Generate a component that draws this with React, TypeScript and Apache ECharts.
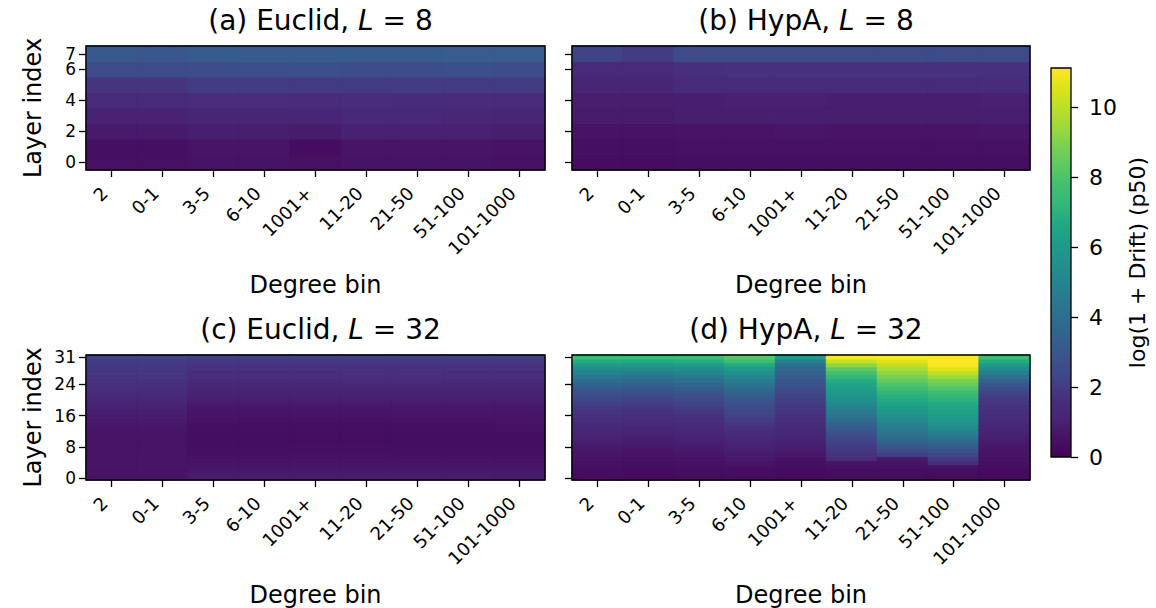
import React, { useEffect, useRef } from "react";
import * as echarts from "echarts";

const FONT = "DejaVu Sans";

const degreeBins = ["2", "0-1", "3-5", "6-10", "1001+", "11-20", "21-50", "51-100", "101-1000"];

const layers8 = ["0", "1", "2", "3", "4", "5", "6", "7"];
const layers32 = Array.from({ length: 32 }, (_, i) => String(i));
const ticks8 = [0, 2, 4, 6, 7];
const ticks32 = [0, 8, 16, 24, 31];

// log(1 + drift), p50 — L = 8: one row per layer (layer 0 first), one value per degree bin
const euclid8 = [
  [0.5, 0.5, 0.55, 0.55, 0.5, 0.55, 0.55, 0.55, 0.5],
  [0.45, 0.45, 0.6, 0.6, 0.35, 0.6, 0.6, 0.6, 0.55],
  [0.8, 0.8, 0.95, 0.9, 0.85, 1.0, 1.0, 1.0, 0.9],
  [1.05, 1.05, 1.2, 1.2, 1.15, 1.3, 1.3, 1.25, 1.2],
  [1.4, 1.4, 1.55, 1.55, 1.5, 1.55, 1.5, 1.5, 1.45],
  [1.8, 1.8, 2.0, 2.0, 1.95, 1.95, 2.0, 1.95, 1.95],
  [2.5, 2.5, 2.6, 2.65, 2.65, 2.6, 2.6, 2.65, 2.6],
  [3.1, 3.0, 3.2, 3.2, 3.2, 3.2, 3.2, 3.25, 3.25],
];

const hypa8 = [
  [0.35, 0.35, 0.4, 0.4, 0.4, 0.4, 0.4, 0.4, 0.4],
  [0.45, 0.45, 0.5, 0.5, 0.5, 0.5, 0.5, 0.5, 0.5],
  [0.55, 0.55, 0.6, 0.6, 0.65, 0.6, 0.6, 0.6, 0.65],
  [0.85, 0.85, 0.9, 0.9, 0.95, 0.9, 0.9, 0.9, 0.95],
  [0.9, 0.9, 0.95, 1.0, 1.0, 0.95, 0.95, 0.95, 1.0],
  [1.2, 1.2, 1.45, 1.45, 1.45, 1.45, 1.45, 1.45, 1.5],
  [1.4, 1.4, 1.65, 1.7, 1.7, 1.7, 1.7, 1.7, 1.7],
  [2.2, 2.0, 2.45, 2.45, 2.45, 2.45, 2.45, 2.5, 2.45],
];

// L = 32: one array per degree bin, one value per layer (layer 0 first)
const euclid32 = [
  [0.6, 0.6, 0.6, 0.6, 0.6, 0.6, 0.6, 0.6, 0.6, 0.6, 0.6, 0.6, 0.65, 0.7, 0.75, 0.8, 0.85, 0.9, 1.0, 1.1, 1.25, 1.4, 1.5, 1.6, 1.7, 1.75, 1.8, 1.85, 1.9, 1.95, 2.0, 2.2],
  [0.6, 0.6, 0.6, 0.6, 0.6, 0.6, 0.6, 0.6, 0.6, 0.6, 0.6, 0.6, 0.65, 0.7, 0.75, 0.8, 0.85, 0.9, 1.0, 1.1, 1.2, 1.35, 1.5, 1.6, 1.65, 1.75, 1.8, 1.85, 1.9, 1.95, 2.0, 2.2],
  [0.9, 0.85, 0.75, 0.65, 0.6, 0.55, 0.5, 0.5, 0.45, 0.45, 0.45, 0.45, 0.45, 0.45, 0.5, 0.55, 0.55, 0.6, 0.7, 0.8, 0.9, 1.0, 1.1, 1.2, 1.35, 1.45, 1.55, 1.6, 1.7, 1.8, 1.9, 2.1],
  [0.9, 0.85, 0.75, 0.65, 0.6, 0.55, 0.5, 0.5, 0.45, 0.45, 0.45, 0.45, 0.45, 0.45, 0.5, 0.5, 0.55, 0.6, 0.7, 0.8, 0.9, 1.0, 1.1, 1.2, 1.35, 1.45, 1.55, 1.6, 1.7, 1.8, 1.9, 2.1],
  [0.9, 0.85, 0.75, 0.65, 0.6, 0.55, 0.5, 0.45, 0.45, 0.4, 0.4, 0.4, 0.45, 0.45, 0.5, 0.5, 0.55, 0.6, 0.7, 0.8, 0.9, 1.0, 1.1, 1.2, 1.35, 1.45, 1.55, 1.6, 1.7, 1.8, 1.9, 2.1],
  [0.9, 0.85, 0.75, 0.65, 0.6, 0.55, 0.5, 0.45, 0.45, 0.4, 0.4, 0.4, 0.45, 0.45, 0.5, 0.5, 0.55, 0.6, 0.7, 0.8, 0.9, 1.0, 1.1, 1.2, 1.35, 1.5, 1.6, 1.65, 1.7, 1.8, 1.9, 2.1],
  [0.9, 0.85, 0.75, 0.65, 0.6, 0.55, 0.5, 0.5, 0.45, 0.45, 0.45, 0.45, 0.45, 0.5, 0.5, 0.55, 0.6, 0.65, 0.7, 0.8, 0.9, 1.0, 1.1, 1.2, 1.35, 1.5, 1.6, 1.65, 1.7, 1.8, 1.9, 2.1],
  [0.9, 0.85, 0.75, 0.65, 0.6, 0.55, 0.5, 0.5, 0.45, 0.45, 0.45, 0.45, 0.45, 0.5, 0.5, 0.55, 0.6, 0.65, 0.7, 0.8, 0.9, 1.0, 1.1, 1.2, 1.35, 1.45, 1.55, 1.6, 1.7, 1.8, 1.9, 2.1],
  [0.85, 0.8, 0.75, 0.65, 0.6, 0.55, 0.5, 0.5, 0.45, 0.45, 0.45, 0.45, 0.5, 0.5, 0.55, 0.55, 0.6, 0.65, 0.7, 0.8, 0.9, 1.0, 1.1, 1.2, 1.35, 1.45, 1.55, 1.6, 1.7, 1.8, 1.9, 2.1],
];

const hypa32 = [
  [0.3, 0.3, 0.4, 0.45, 0.5, 0.55, 0.6, 0.7, 0.8, 0.9, 1.0, 1.1, 1.2, 1.3, 1.45, 1.6, 1.7, 1.8, 1.9, 2.1, 2.3, 2.5, 2.8, 3.1, 3.5, 3.9, 4.3, 4.8, 5.3, 6.0, 6.8, 7.6],
  [0.3, 0.3, 0.35, 0.4, 0.45, 0.5, 0.55, 0.65, 0.75, 0.85, 0.95, 1.05, 1.15, 1.25, 1.4, 1.5, 1.6, 1.7, 1.85, 2.0, 2.2, 2.4, 2.7, 3.0, 3.4, 3.8, 4.2, 4.7, 5.2, 5.9, 6.7, 7.5],
  [0.3, 0.35, 0.4, 0.45, 0.5, 0.55, 0.65, 0.75, 0.85, 0.95, 1.05, 1.15, 1.25, 1.35, 1.5, 1.6, 1.7, 1.85, 2.0, 2.2, 2.4, 2.6, 2.9, 3.2, 3.6, 4.0, 4.4, 4.9, 5.4, 6.1, 6.9, 7.6],
  [0.35, 0.4, 0.45, 0.5, 0.6, 0.7, 0.8, 0.9, 1.0, 1.1, 1.25, 1.4, 1.55, 1.7, 1.85, 2.0, 2.15, 2.3, 2.5, 2.7, 2.9, 3.2, 3.5, 3.8, 4.2, 4.6, 5.0, 5.5, 6.0, 6.7, 7.5, 8.2],
  [0.3, 0.3, 0.35, 0.4, 0.45, 0.5, 0.7, 0.8, 0.9, 1.0, 1.1, 1.2, 1.3, 1.4, 1.5, 1.6, 1.7, 1.8, 1.9, 2.0, 2.1, 2.25, 2.4, 2.6, 2.8, 3.0, 3.2, 3.4, 3.7, 4.1, 4.8, 6.0],
  [0.3, 0.35, 0.4, 0.5, 0.6, 1.5, 1.7, 1.85, 2.0, 2.15, 2.35, 2.6, 2.9, 3.2, 3.5, 3.8, 4.2, 4.5, 4.8, 5.1, 5.4, 5.7, 6.0, 6.2, 6.5, 6.8, 7.2, 7.7, 8.3, 9.2, 10.2, 11.0],
  [0.3, 0.35, 0.4, 0.5, 0.55, 0.7, 2.1, 2.5, 2.9, 3.3, 3.7, 4.0, 4.3, 4.6, 4.9, 5.2, 5.5, 5.8, 6.1, 6.4, 6.7, 6.9, 7.2, 7.6, 8.0, 8.4, 8.8, 9.2, 9.6, 10.0, 10.6, 11.1],
  [0.3, 0.35, 0.45, 0.55, 1.6, 1.9, 2.3, 2.7, 3.1, 3.6, 4.1, 4.5, 4.9, 5.3, 5.6, 5.9, 6.1, 6.3, 6.5, 6.7, 7.0, 7.3, 7.6, 8.0, 8.5, 8.9, 9.4, 10.0, 10.6, 11.0, 11.1, 11.1],
  [0.3, 0.3, 0.35, 0.4, 0.45, 0.5, 0.55, 0.6, 0.7, 0.8, 0.9, 1.0, 1.1, 1.2, 1.3, 1.4, 1.5, 1.6, 1.7, 1.8, 1.9, 2.05, 2.25, 2.6, 3.0, 3.5, 4.0, 4.6, 5.3, 6.0, 6.8, 7.6],
];

const colorMin = 0;
const colorMax = 11.12;

// viridis, sampled every 5 %
const viridis = [
  "#440154", "#471365", "#482475", "#472f7d", "#414487", "#3b528b", "#355f8d",
  "#2f6c8e", "#2a788e", "#25858e", "#21918c", "#1e9c89", "#22a884", "#35b779",
  "#44bf70", "#5ec962", "#7ad151", "#9fda3a", "#bddf26", "#dfe318", "#fde725",
];

// colour of a value on the viridis ramp (used to paint cell edges so no seams show)
function rampColor(v: number): string {
  const t = Math.min(1, Math.max(0, (v - colorMin) / (colorMax - colorMin)));
  const pos = t * (viridis.length - 1);
  const i = Math.min(viridis.length - 2, Math.floor(pos));
  const f = pos - i;
  const a = viridis[i], b = viridis[i + 1];
  const ch = (s: string, k: number) => parseInt(s.slice(1 + 2 * k, 3 + 2 * k), 16);
  const out = [0, 1, 2].map((k) => Math.round(ch(a, k) + (ch(b, k) - ch(a, k)) * f));
  return `rgb(${out.join(",")})`;
}

const cell = (x: number, y: number, v: number) => ({
  value: [x, y, v],
  itemStyle: { borderColor: rampColor(v), borderWidth: 0.7 },
});

const rowMajor = (rows: number[][]) =>
  rows.flatMap((row, y) => row.map((v, x) => cell(x, y, v)));
const colMajor = (cols: number[][]) =>
  cols.flatMap((col, x) => col.map((v, y) => cell(x, y, v)));

const panels = [
  { tag: "(a) Euclid, ", L: "8", data: rowMajor(euclid8), layers: layers8, ticks: ticks8, grid: { left: 86, top: 46, width: 459, height: 124 }, labels: true },
  { tag: "(b) HypA, ", L: "8", data: rowMajor(hypa8), layers: layers8, ticks: ticks8, grid: { left: 572, top: 46, width: 458, height: 124 }, labels: false },
  { tag: "(c) Euclid, ", L: "32", data: colMajor(euclid32), layers: layers32, ticks: ticks32, grid: { left: 86, top: 355, width: 459, height: 125 }, labels: true },
  { tag: "(d) HypA, ", L: "32", data: colMajor(hypa32), layers: layers32, ticks: ticks32, grid: { left: 572, top: 355, width: 458, height: 125 }, labels: false },
];

const colorbarGrid = { left: 1051, top: 68, width: 20, height: 389 };

export default function App() {
  const ref = useRef<HTMLDivElement>(null);

  useEffect(() => {
    if (!ref.current) return;
    const chart = echarts.init(ref.current, undefined, { renderer: "svg" });

    const border = { show: true, borderColor: "#000", borderWidth: 1.3, backgroundColor: "transparent", z: 10 };
    const tickStyle = { color: "#000", width: 1.3 };

    const grid = [
      ...panels.map((p) => ({ ...p.grid, ...border })),
      { ...colorbarGrid, ...border },
    ];

    const xAxis: any[] = panels.map((p, i) => ({
      type: "category",
      gridIndex: i,
      data: degreeBins,
      axisLine: { show: false },
      axisTick: { show: true, alignWithLabel: true, length: 7, lineStyle: tickStyle },
      axisLabel: {
        rotate: 45,
        fontSize: 18,
        color: "#000",
        fontFamily: FONT,
        margin: 13,
        padding: [0, 10, 0, 0],
        hideOverlap: false,
      },
      splitLine: { show: false },
      name: "Degree bin",
      nameLocation: "middle",
      nameGap: 103,
      nameTextStyle: { fontSize: 24, color: "#000", fontFamily: FONT },
      z: 5,
    }));
    xAxis.push({ type: "category", gridIndex: 4, data: [""], show: false });

    const yAxis: any[] = panels.map((p, i) => {
      const shown = (idx: number) => p.ticks.includes(idx);
      return {
        type: "category",
        gridIndex: i,
        data: p.layers,
        axisLine: { show: false },
        axisTick: { show: true, alignWithLabel: true, length: 7, lineStyle: tickStyle, interval: shown },
        axisLabel: {
          show: p.labels,
          // every slot is laid out; only the ticked layers get text
          interval: 0,
          formatter: (v: string, idx: number) => (shown(idx) ? v : ""),
          fontSize: 17,
          lineHeight: 13,
          color: "#000",
          fontFamily: FONT,
          margin: 10,
          hideOverlap: false,
        },
        splitLine: { show: false },
        name: p.labels ? "Layer index" : "",
        nameLocation: "middle",
        nameRotate: 90,
        nameGap: 41,
        nameTextStyle: { fontSize: 24, color: "#000", fontFamily: FONT },
        z: 5,
      };
    });
    yAxis.push({
      type: "value",
      gridIndex: 4,
      position: "right",
      min: colorMin,
      max: colorMax,
      interval: 2,
      axisLine: { show: false },
      axisTick: { show: true, length: 7, lineStyle: tickStyle },
      axisLabel: { fontSize: 22, color: "#000", fontFamily: FONT, margin: 18, showMaxLabel: false },
      splitLine: { show: false },
      name: "log(1 + Drift) (p50)",
      nameLocation: "middle",
      nameRotate: 90,
      nameGap: 55,
      nameTextStyle: { fontSize: 22, color: "#000", fontFamily: FONT },
    });

    const title = panels.map((p) => ({
      text: `${p.tag}{i|L} = ${p.L}`,
      left: p.grid.left + p.grid.width / 2,
      top: p.grid.top - 45,
      textAlign: "center",
      textStyle: {
        fontSize: 28,
        fontWeight: "normal",
        color: "#000",
        fontFamily: FONT,
        rich: { i: { fontStyle: "italic", fontSize: 28, color: "#000", fontFamily: FONT } },
      },
    }));

    const series = panels.map((p, i) => ({
      type: "heatmap",
      xAxisIndex: i,
      yAxisIndex: i,
      data: p.data,
      emphasis: { disabled: true },
      progressive: 0,
    }));

    chart.setOption({
      animation: false,
      backgroundColor: "#fff",
      title,
      grid,
      xAxis,
      yAxis,
      visualMap: {
        show: false,
        type: "continuous",
        seriesIndex: [0, 1, 2, 3],
        dimension: 2,
        min: colorMin,
        max: colorMax,
        inRange: { color: viridis },
      },
      graphic: [
        {
          type: "rect",
          shape: { x: colorbarGrid.left, y: colorbarGrid.top, width: colorbarGrid.width, height: colorbarGrid.height },
          style: {
            fill: new echarts.graphic.LinearGradient(
              0, 1, 0, 0,
              viridis.map((c, k) => ({ offset: k / (viridis.length - 1), color: c }))
            ),
          },
          z: 1,
        },
      ],
      series,
    });

    return () => chart.dispose();
  }, []);

  return (
    <div
      ref={ref}
      style={{ position: "absolute", left: 0, top: 0, width: 1156, height: 608 }}
    />
  );
}
